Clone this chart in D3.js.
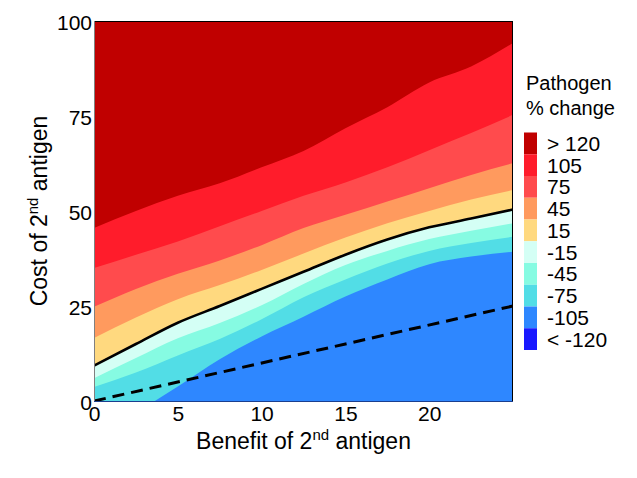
<!DOCTYPE html>
<html>
<head>
<meta charset="utf-8">
<script src="https://cdn.jsdelivr.net/npm/d3@7/dist/d3.min.js"></script>
<style>
  body { margin: 0; background: #fff; }
  svg { display: block; font-family: Arial, "Liberation Sans", sans-serif; }
</style>
</head>
<body>
<svg id="chart" width="637" height="478"></svg>
<script>
// Benefit of 2nd antigen (x grid for the contour lines)
const benefit = [0, 2.5, 5, 7.5, 10, 12.5, 15, 17.5, 20, 22.5, 25];

// Cost value of each contour level at each benefit value
const contourLevels = [-90, -60, -30, 0, 30, 60, 90, 120];
const cM90 = [-9, -3, 3.8, 11, 17, 22.2, 27.5, 32, 36, 38, 39.3];
const cM60 = [3.7, 7.5, 12, 16.3, 21.5, 27.3, 32, 36.2, 39.5, 41.6, 43.2];
const cM30 = [6, 11.3, 16.5, 20.5, 25.2, 30.8, 35.8, 39.5, 42.6, 44.8, 46.8];
const c0   = [9.3, 15, 20.6, 25, 29.5, 34, 38.5, 42.5, 45.7, 48, 50.4];
const c30  = [16.6, 22, 26.8, 30.5, 34.5, 38.8, 43, 46.8, 50, 53, 55.5];
const c60  = [24.8, 29.5, 33.5, 37, 41, 45.5, 49, 52.5, 56, 59.5, 62.6];
const c90  = [35, 38.5, 42, 46, 50, 54, 57.5, 61.5, 66, 70.5, 75.3];
const c120 = [45.5, 50, 54, 57.3, 61.5, 65.8, 71.8, 77.3, 83.8, 88, 94.2];
const contours = [cM90, cM60, cM30, c0, c30, c60, c90, c120];

// Dashed reference line (cost = benefit)
const diagX = [0, 25];
const diagY = [0, 25];

// Legend bins
const legendLabels = ["> 120", "105", "75", "45", "15", "-15", "-45", "-75", "-105", "< -120"];
const legendColors = ["#c00000", "#ff1c2b", "#ff4b4d", "#ff9a5e", "#ffd97f",
                      "#d4fff5", "#86fbe2", "#52dde6", "#2e87ff", "#1818ff"];
// band colours from bottom (-120..-90) upward
const bandColors = ["#2e87ff", "#52dde6", "#86fbe2", "#d4fff5", "#ffd97f", "#ff9a5e", "#ff4b4d", "#ff1c2b", "#c00000"];

const xTicks = [0, 5, 10, 15, 20];
const yTicks = [0, 25, 50, 75, 100];

const svg = d3.select("#chart");
const L = 94, R = 513, T = 21, B = 401;
const x = d3.scaleLinear().domain([0, 25]).range([L, R]);
const y = d3.scaleLinear().domain([0, 100]).range([B, T]);

svg.append("defs").append("clipPath").attr("id", "plotclip")
  .append("rect").attr("x", L).attr("y", T).attr("width", R - L).attr("height", B - T);

const g = svg.append("g").attr("clip-path", "url(#plotclip)");

// base band
g.append("rect").attr("x", L).attr("y", T).attr("width", R - L).attr("height", B - T)
  .attr("fill", bandColors[0]);

contours.forEach((c, i) => {
  const area = d3.area()
    .x((d, j) => x(benefit[j]))
    .y0((d) => y(d))
    .y1(() => y(100))
    .curve(d3.curveMonotoneX);
  g.append("path").datum(c).attr("d", area).attr("fill", bandColors[i + 1]);
});

// zero contour line
const line = d3.line().x((d, j) => x(benefit[j])).y(d => y(d)).curve(d3.curveMonotoneX);
g.append("path").datum(c0).attr("d", line).attr("fill", "none")
  .attr("stroke", "#000").attr("stroke-width", 2.6);

// dashed diagonal
g.append("path").datum(diagY).attr("d", d3.line().x((d, j) => x(diagX[j])).y(d => y(d)))
  .attr("fill", "none").attr("stroke", "#000").attr("stroke-width", 3)
  .attr("stroke-dasharray", "12,7");

// frame
svg.append("line").attr("x1", L).attr("x2", R).attr("y1", T + 0.5).attr("y2", T + 0.5).attr("stroke", "#000");
svg.append("line").attr("x1", R - 0.5).attr("x2", R - 0.5).attr("y1", T).attr("y2", B).attr("stroke", "#000");
svg.append("line").attr("x1", L).attr("x2", R).attr("y1", B + 0.5).attr("y2", B + 0.5).attr("stroke", "#1a3f8f");
svg.append("line").attr("x1", L + 0.5).attr("x2", L + 0.5).attr("y1", T).attr("y2", B).attr("stroke", "#808080");

// axes (labels only, no tick marks)
const xAxis = d3.axisBottom(x).tickValues(xTicks).tickSize(0).tickPadding(0);
const xg = svg.append("g").attr("transform", `translate(0,${B})`).call(xAxis);
xg.select(".domain").remove();
xg.selectAll("text").attr("font-size", 21).attr("fill", "#000")
  .attr("dy", null).attr("y", 20).attr("font-family", "Arial, 'Liberation Sans', sans-serif");

const yAxis = d3.axisLeft(y).tickValues(yTicks).tickSize(0).tickPadding(0);
const yg = svg.append("g").attr("transform", `translate(${L - 2},0)`).call(yAxis);
yg.select(".domain").remove();
yg.selectAll("text").attr("font-size", 21).attr("fill", "#000")
  .attr("dy", null).attr("y", 8).attr("font-family", "Arial, 'Liberation Sans', sans-serif");

// axis titles
const xt = svg.append("text").attr("x", (L + R) / 2).attr("y", 449)
  .attr("text-anchor", "middle").attr("font-size", 23);
xt.append("tspan").text("Benefit of 2");
xt.append("tspan").text("nd").attr("font-size", 15).attr("dy", -9);
xt.append("tspan").text(" antigen").attr("dy", 9);

const yt = svg.append("text").attr("transform", `translate(47,${(T + B) / 2}) rotate(-90)`)
  .attr("text-anchor", "middle").attr("font-size", 23);
yt.append("tspan").text("Cost of 2");
yt.append("tspan").text("nd").attr("font-size", 15).attr("dy", -9);
yt.append("tspan").text(" antigen").attr("dy", 9);

// legend
svg.append("text").attr("x", 526).attr("y", 90).attr("font-size", 20).text("Pathogen");
svg.append("text").attr("x", 526).attr("y", 115).attr("font-size", 20).text("% change");
const sw = 21.75, ly0 = 132.5;
legendLabels.forEach((lab, i) => {
  svg.append("rect").attr("x", 524).attr("y", ly0 + i * sw).attr("width", 13).attr("height", sw)
    .attr("fill", legendColors[i]);
  svg.append("text").attr("x", 547).attr("y", ly0 + i * sw + sw / 2 + 7.5)
    .attr("font-size", 21).text(lab);
});
</script>
</body>
</html>
